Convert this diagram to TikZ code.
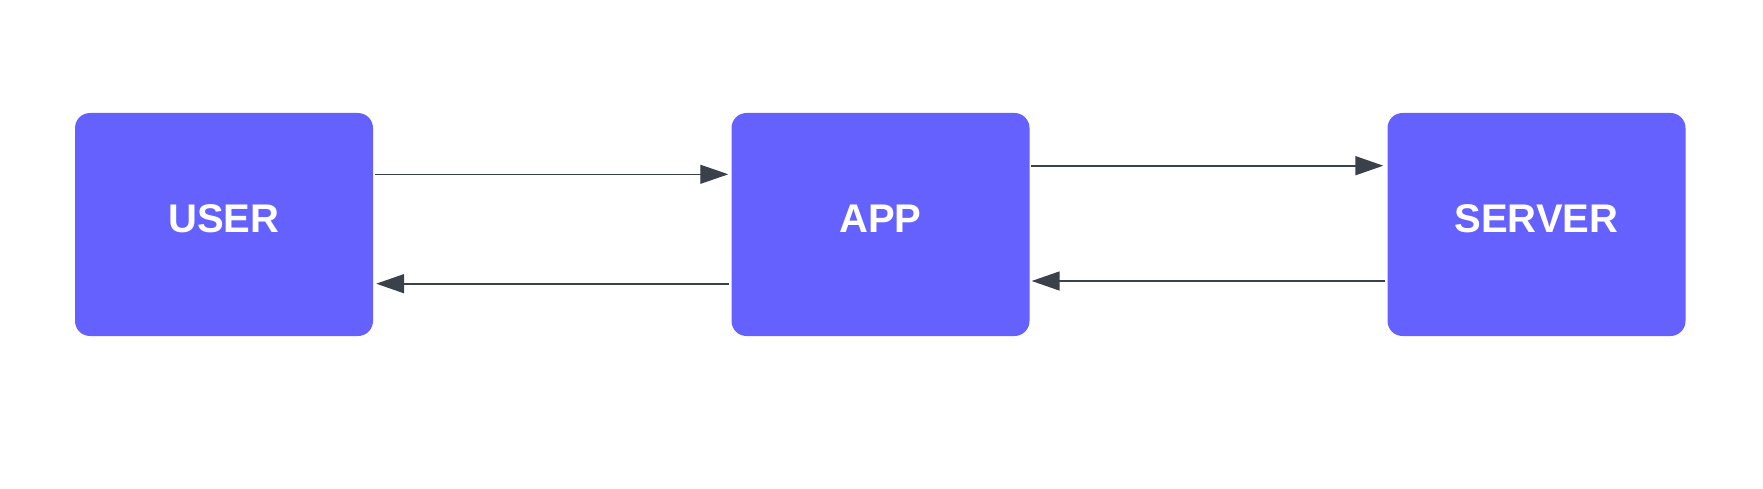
\documentclass[tikz,border=0pt]{standalone}
\usepackage{fontspec}
\setmainfont{Liberation Sans}
\usetikzlibrary{arrows.meta}
\definecolor{boxblue}{HTML}{6461FF}
\definecolor{linegray}{HTML}{3A414A}
\tikzset{
  block/.style={fill=boxblue, rounded corners=15pt, minimum width=298pt, minimum height=223pt,
    inner sep=0pt, text depth=12pt, text=white, font=\fontsize{40}{48}\selectfont\bfseries},
  link/.style={draw=linegray, line width=1.7pt, -{Triangle[length=28pt,width=19pt]}}
}
\begin{document}
\begin{tikzpicture}[x=1pt,y=1pt]
            \useasboundingbox (0,0) rectangle (1763,488);
            \node at (224,263.5) [block] (user) {USER};
            \node at (880.5,263.5) [block] (app) {APP};
            \node at (1536.5,263.5) [block] (server) {SERVER};

            \draw [link, line width=1pt] ([shift={(2,50.2)}]user.east) -- ([shift={(-3,50.2)}]app.west);
            \draw [link] ([shift={(-2,-59.2)}]app.west) -- ([shift={(3,-59.2)}]user.east);
            \draw [link] ([shift={(1,58.8)}]app.east) -- ([shift={(-4,58.8)}]server.west);
            \draw [link] ([shift={(-2,-56.5)}]server.west) -- ([shift={(2,-56.5)}]app.east);
        \end{tikzpicture}
\end{document}
